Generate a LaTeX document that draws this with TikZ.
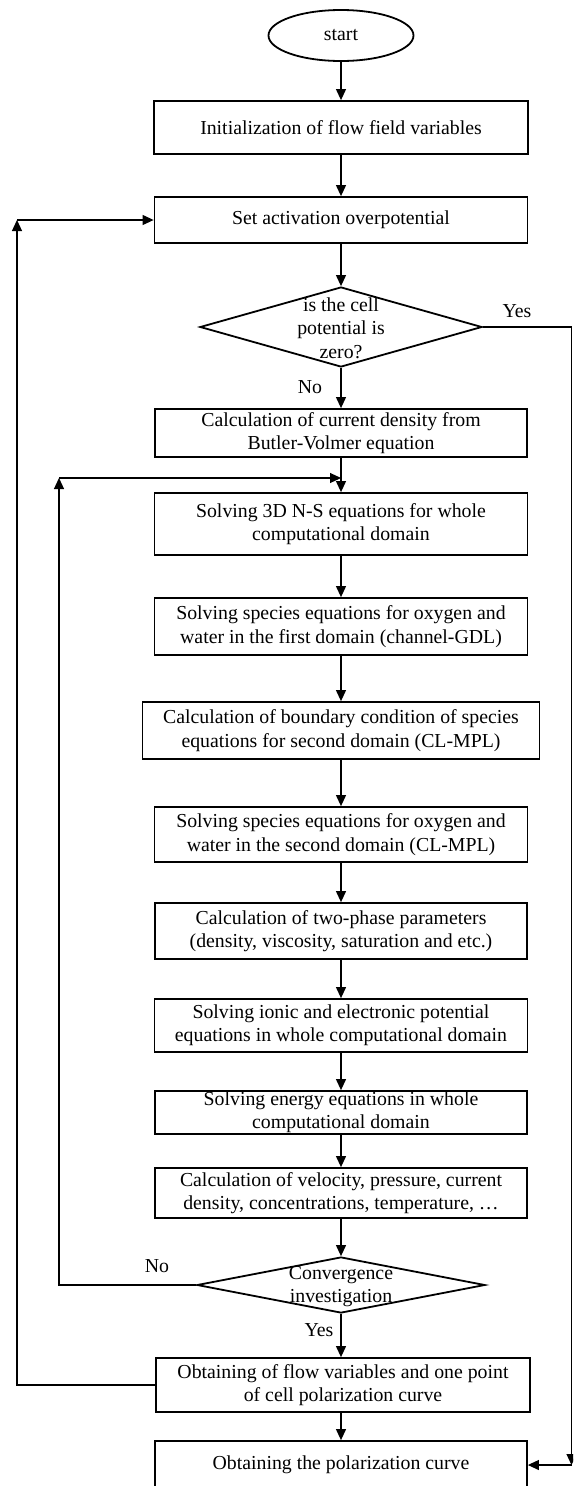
\documentclass[tikz,border=0pt]{standalone}
\usepackage{fontspec}
\setmainfont{Liberation Serif}
\usetikzlibrary{shapes.geometric,arrows.meta}
\tikzset{
  txt/.style={font=\fontsize{19.8}{23.3}\selectfont},
  procbox/.style={txt,draw,line width=1.8pt,align=center,inner sep=0pt},
  startbox/.style={txt,draw,ellipse,line width=1.8pt,inner sep=0pt},
  decbox/.style={draw,diamond,line width=1.8pt,inner sep=0pt},
  dectext/.style={txt,align=center,inner sep=0pt},
  lbl/.style={txt,inner sep=0pt},
  arr/.style={-{Triangle[length=11pt,width=10pt]},line width=1.1pt}
}
\begin{document}
\begin{tikzpicture}[x=1pt,y=-1pt]
        \useasboundingbox (0,0) rectangle (573,1486);
        \clip (0,0) rectangle (573,1486);

        \node[startbox,minimum width=145pt,minimum height=51pt] (start) at (341,35.5) {start};
        \node[procbox,minimum width=374pt,minimum height=53pt] (init) at (341,127.5) {Initialization of flow field variables};
        \node[procbox,minimum width=373pt,minimum height=46pt] (setop) at (341,220) {Set activation overpotential};

        \node[decbox,minimum width=282pt,minimum height=80pt] (dec1) at (341,327) {};
        \node[dectext] (dec1txt) at (341,328) {is the cell\\potential is\\zero?};

        \node[procbox,minimum width=372pt,minimum height=48pt] (bv) at (341,433) {Calculation of current density from\\Butler-Volmer equation};
        \node[procbox,minimum width=373pt,minimum height=62pt] (ns) at (341,524) {Solving 3D N-S equations for whole\\computational domain};
        \node[procbox,minimum width=373pt,minimum height=57pt] (spec1) at (341,626.5) {Solving species equations for oxygen and\\water in the first domain (channel-GDL)};
        \node[procbox,minimum width=397pt,minimum height=57pt] (bc) at (341,730.5) {Calculation of boundary condition of species\\equations for second domain (CL-MPL)};
        \node[procbox,minimum width=373pt,minimum height=55pt] (spec2) at (341,834.5) {Solving species equations for oxygen and\\water in the second domain (CL-MPL)};
        \node[procbox,minimum width=372pt,minimum height=56pt] (twoph) at (341,931) {Calculation of two-phase parameters\\(density, viscosity, saturation and etc.)};
        \node[procbox,minimum width=373pt,minimum height=53pt] (ionic) at (341,1025.5) {Solving ionic and electronic potential\\equations in whole computational domain};
        \node[procbox,minimum width=372pt,minimum height=43pt] (energy) at (341,1112.5) {Solving energy equations in whole\\computational domain};
        \node[procbox,minimum width=372pt,minimum height=50pt] (veloc) at (341,1193) {Calculation of velocity, pressure, current\\density, concentrations, temperature, …};

        \node[decbox,minimum width=288pt,minimum height=56pt] (conv) at (341,1285) {};
        \node[dectext] (convtxt) at (341,1286.5) {Convergence\\investigation};

        \node[procbox,minimum width=374pt,minimum height=54pt] (flowpt) at (343,1385) {Obtaining of flow variables and one point\\of cell polarization curve};
        \node[procbox,minimum width=372pt,minimum height=48pt] (curve) at (341,1465) {Obtaining the polarization curve};

        \node[lbl] (yes1) at (517,311) {Yes};
        \node[lbl] (no1) at (310,387) {No};
        \node[lbl] (no2) at (157,1266) {No};
        \node[lbl] (yes2) at (319,1330) {Yes};

        \coordinate (outer) at (17,220);
        \coordinate (inner) at (59,478);
        \coordinate (right) at (571.5,1465);

        \draw[arr] (start) -- (init);
        \draw[arr] (init) -- (setop);
        \draw[arr] (setop) -- (dec1);
        \draw[arr] (dec1) -- (bv);
        \draw[arr] (bv) -- (ns);
        \draw[arr] (ns) -- (spec1);
        \draw[arr] (spec1) -- (bc);
        \draw[arr] (bc) -- (spec2);
        \draw[arr] (spec2) -- (twoph);
        \draw[arr] (twoph) -- (ionic);
        \draw[arr] (ionic) -- (energy);
        \draw[arr] (energy) -- (veloc);
        \draw[arr] (veloc) -- (conv);
        \draw[arr] (conv) -- (conv |- flowpt.north);
        \draw[arr] (flowpt.south -| curve) -- (curve);

        \draw[arr] (conv.west) -| (inner);
        \draw[arr] (inner) -- (inner -| ns);
        \draw[arr] (flowpt.west) -| (outer);
        \draw[arr] (outer) -- (setop.west);
        \draw[arr] (dec1.east) -| (right);
        \draw[arr] (right) -- (curve.east);
       \end{tikzpicture}
\end{document}
